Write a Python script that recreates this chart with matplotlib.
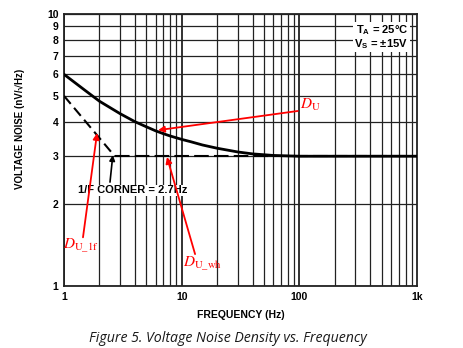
import matplotlib
matplotlib.use("Agg")
import matplotlib.pyplot as plt
import numpy as np

plt.rcParams['font.family'] = ['Liberation Sans', 'DejaVu Sans']
plt.rcParams['mathtext.fontset'] = 'stix'

# Total noise curve (solid)
freq_total = [1, 1.5, 2, 3, 4, 5, 6, 7, 8, 10, 12, 15, 20, 30, 40, 60, 100, 1000]
noise_total = [6.0, 5.25, 4.78, 4.3, 4.02, 3.85, 3.72, 3.63, 3.56, 3.46, 3.39, 3.3, 3.21,
               3.11, 3.06, 3.02, 3.0, 3.0]
# 1/f asymptote (dashed) and white-noise floor (dashed)
freq_1f = [1, 2.7]
noise_1f = [5.0, 3.0]
freq_wh = [2.7, 1000]
noise_wh = [3.0, 3.0]

y_ticks = [1, 2, 3, 4, 5, 6, 7, 8, 9, 10]
x_ticks = [1, 10, 100, 1000]
x_ticklabels = ['1', '10', '100', '1k']

fig = plt.figure(figsize=(4.64, 3.48), dpi=100)
W, H = 464, 348
ax = fig.add_axes([64 / W, 1 - 286 / H, (417 - 64) / W, (286 - 14) / H])
ax.set_xscale('log')
ax.set_yscale('log')
ax.set_xlim(1, 1000)
ax.set_ylim(1, 10)

# grid
for dec in [1, 10, 100]:
    for m in range(1, 10):
        xv = dec * m
        lw = 1.3 if m == 1 else 0.9
        ax.axvline(xv, color='#222222', lw=lw, zorder=1)
for yv in y_ticks:
    ax.axhline(yv, color='#222222', lw=0.9, zorder=1)

ax.set_yticks(y_ticks)
ax.set_yticklabels([str(v) for v in y_ticks], fontsize=7.5, fontweight='bold')
ax.set_yticks([], minor=True)
ax.set_xticks(x_ticks)
ax.set_xticklabels(x_ticklabels, fontsize=7.5, fontweight='bold')
ax.set_xticks([], minor=True)
ax.tick_params(length=0, pad=4)
for s in ax.spines.values():
    s.set_linewidth(1.3)
    s.set_color('#222222')

ax.plot(freq_total, noise_total, color='black', lw=2.0, zorder=3)
ax.plot(freq_1f, noise_1f, color='black', lw=1.5, ls=(0, (5, 2.5)), zorder=3)
ax.plot(freq_wh, noise_wh, color='black', lw=1.5, ls=(0, (7, 2.5)), zorder=3)

# conditions box
ax.text(0.975, 0.965, r'T$_\mathregular{A}$ = 25°C' + '\n' + r'V$_\mathregular{S}$ = ±15V',
        transform=ax.transAxes, ha='right', va='top', fontsize=8, fontweight='bold',
        linespacing=1.0, bbox=dict(facecolor='white', edgecolor='none', pad=1), zorder=5)

# corner label
ax.text(3.8, 2.25, '1/F CORNER = 2.7Hz', ha='center', va='center', fontsize=8,
        fontweight='bold', bbox=dict(facecolor='white', edgecolor='none', pad=0.3), zorder=5)
ax.annotate('', xy=(2.6, 3.03), xytext=(2.46, 2.41),
            arrowprops=dict(arrowstyle='-|>', color='black', lw=1.2, mutation_scale=8,
                            shrinkA=0, shrinkB=0), zorder=6)

red = '#ff0000'
ap = dict(arrowstyle='-|>', color=red, lw=1.3, mutation_scale=9, shrinkA=0, shrinkB=0)
ax.annotate('', xy=(6.3, 3.74), xytext=(97, 4.4), arrowprops=ap, zorder=6)
ax.text(101, 4.63, r'$D_{\mathrm{U}}$', color=red, fontsize=11, ha='left', va='center', zorder=6)

ax.annotate('', xy=(1.91, 3.65), xytext=(1.45, 1.51), arrowprops=ap, zorder=6)
ax.text(0.99, 1.4, r'$D_{\mathrm{U\_1f}}$', color=red, fontsize=11, ha='left', va='center',
        zorder=6, clip_on=False)

ax.annotate('', xy=(7.5, 2.98), xytext=(13.0, 1.31), arrowprops=ap, zorder=6)
ax.text(10.2, 1.21, r'$D_{\mathrm{U\_wh}}$', color=red, fontsize=11, ha='left', va='center',
        zorder=6)

fig.text(20 / W, 1 - 129 / H, 'VOLTAGE NOISE (nV/√Hz)', rotation=90, ha='center', va='center',
         fontsize=7, fontweight='bold')
fig.text(241 / W, 1 - 315 / H, 'FREQUENCY (Hz)', ha='center', va='center', fontsize=7.5,
         fontweight='bold')
fig.text(228 / W, 1 - 338 / H, 'Figure 5. Voltage Noise Density vs. Frequency', ha='center',
         va='center', fontsize=10.2, style='italic', family='Open Sans', color='#1a1a1a')

fig.savefig('out.png', dpi=100)
